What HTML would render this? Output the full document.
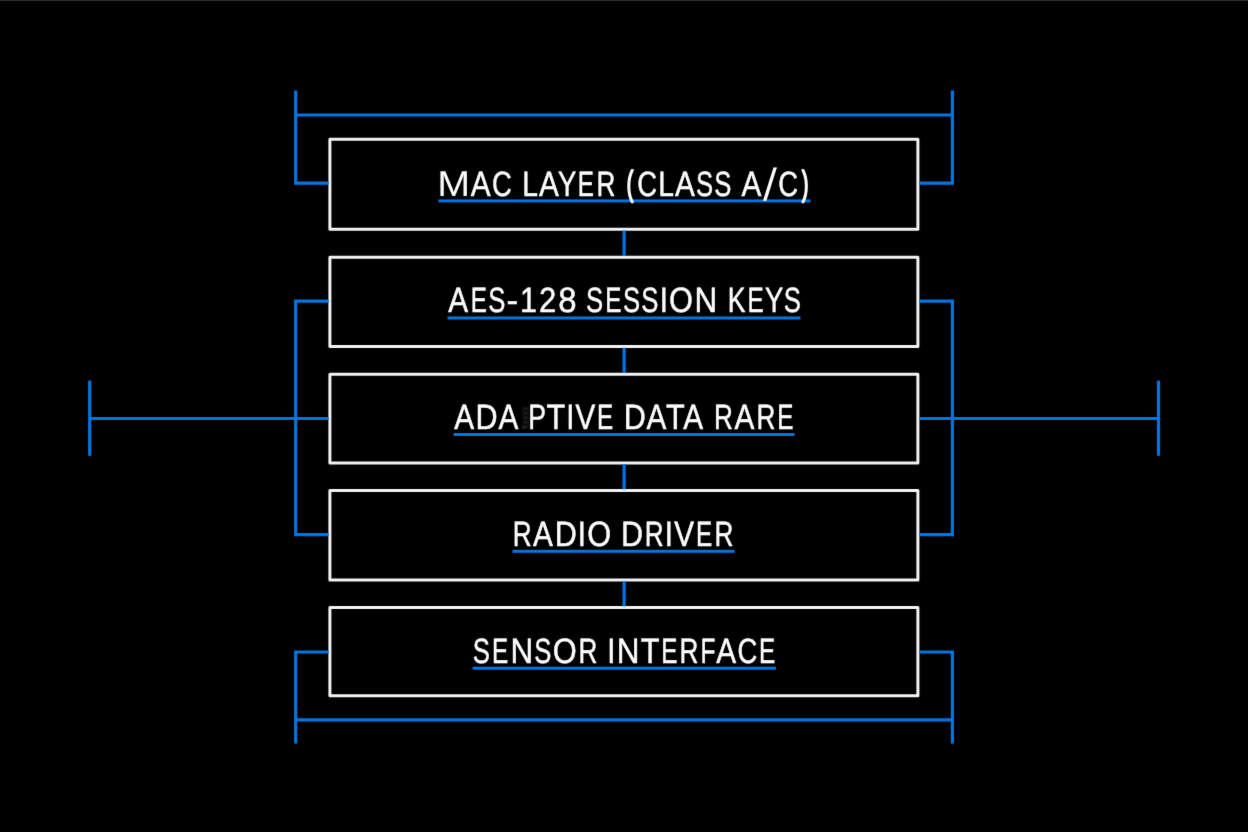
<!DOCTYPE html>
<html lang="en">
<head>
<meta charset="utf-8">
<title>LoRaWAN Stack Diagram</title>
<style>
html,body{margin:0;padding:0;background:#000;}
body{width:1248px;height:832px;overflow:hidden;}
svg{display:block;will-change:transform;}
.wire{fill:none;stroke:#0075e2;stroke-width:3.2;stroke-linecap:butt;stroke-linejoin:miter;}
.box{fill:none;stroke:#f3f3f3;stroke-width:3.0;stroke-linejoin:round;}
.ul{fill:#0075e2;}
text{font-family:"Liberation Sans",sans-serif;font-size:35.2px;fill:#fcfcfc;stroke:#fcfcfc;stroke-width:0.5;stroke-linejoin:round;text-rendering:geometricPrecision;font-kerning:none;font-variant-ligatures:none;}
</style>
</head>
<body>
<svg width="1248" height="832" viewBox="0 0 1248 832" role="img" aria-label="LoRaWAN end-device protocol stack">
<desc>Stack diagram, top to bottom: MAC layer (Class A/C), AES-128 session keys, adaptive data rate, radio driver, sensor interface.</desc>
<rect width="1248" height="832" fill="#000"/>
<rect width="1248" height="1" fill="#2a2c2b"/><rect y="1" width="1248" height="1" fill="#050505"/>
<defs><filter id="soft" filterUnits="userSpaceOnUse" x="0" y="2" width="1248" height="830" color-interpolation-filters="sRGB"><feConvolveMatrix order="3" kernelMatrix="0.0064 0.0672 0.0064 0.0672 0.7056 0.0672 0.0064 0.0672 0.0064" edgeMode="none"/></filter></defs>
<g filter="url(#soft)">
<g class="box">
<rect x="329.9" y="139.2" width="588" height="90.1"/>
<rect x="329.9" y="257.15" width="588" height="89.35"/>
<rect x="329.9" y="374.2" width="588" height="88.8"/>
<rect x="329.9" y="490.5" width="588" height="89.5"/>
<rect x="329.9" y="607.5" width="588" height="88.2"/>
</g>
<g class="wire">
<path d="M295.7 90.4V183.05H328.7"/>
<path d="M952.4 90.4V183.05H919.1"/>
<path d="M295.7 115H952.4"/>
<path d="M328.7 301.2H295.7V534.6H328.7"/>
<path d="M919.1 301.2H952.4V534.6H919.1"/>
<path d="M89.7 418.5H328.7"/>
<path d="M919.1 418.5H1158.5"/>
<path d="M89.7 380.6V455.8"/>
<path d="M1158.5 380.6V455.8"/>
<path d="M328.7 652H295.7V743.4"/>
<path d="M919.1 652H952.4V743.4"/>
<path d="M295.7 719.9H952.4"/>
<path d="M624.1 230.5V255.95"/>
<path d="M624.1 347.7V373"/>
<path d="M624.1 464.2V489.3"/>
<path d="M624.1 581.2V606.3"/>
</g>
<g class="ul">
<rect x="438.4" y="199.4" width="372.1" height="3"/>
<rect x="447.5" y="316.45" width="353" height="3"/>
<rect x="453.6" y="433" width="341" height="3"/>
<rect x="512.6" y="549.8" width="221.9" height="3"/>
<rect x="472.6" y="666.7" width="303.3" height="3"/>
</g>
<rect x="522" y="407" width="7.2" height="22.4" fill="#0c0d0e"/><line x1="525.6" y1="407.5" x2="525.6" y2="429" stroke="#1b1c1e" stroke-width="3.4" stroke-dasharray="2.2 2.4" fill="none"/><circle cx="523.6" cy="427.7" r="1.1" fill="#30363c"/>
<text y="195.6"><tspan x="437.36" y="195.85" style="font-size:35.93px;stroke-width:0" textLength="32.87" lengthAdjust="spacingAndGlyphs">M</tspan><tspan x="470.76" y="195.6" textLength="19.88" lengthAdjust="spacingAndGlyphs">A</tspan><tspan x="492.06" textLength="19.82" lengthAdjust="spacingAndGlyphs">C</tspan> <tspan x="522.36" textLength="15.7" lengthAdjust="spacingAndGlyphs">L</tspan><tspan x="538.91" textLength="19.88" lengthAdjust="spacingAndGlyphs">A</tspan><tspan x="557.99" textLength="18.32" lengthAdjust="spacingAndGlyphs">Y</tspan><tspan x="577.78" textLength="16.18" lengthAdjust="spacingAndGlyphs">E</tspan><tspan x="596.39" textLength="18.89" lengthAdjust="spacingAndGlyphs">R</tspan> <tspan x="626.82" y="194.51" style="font-size:34.24px;stroke-width:2.2" textLength="6.47" lengthAdjust="spacingAndGlyphs">(</tspan><tspan x="637.21" y="195.6" textLength="19.82" lengthAdjust="spacingAndGlyphs">C</tspan><tspan x="658.31" textLength="15.7" lengthAdjust="spacingAndGlyphs">L</tspan><tspan x="674.91" textLength="19.88" lengthAdjust="spacingAndGlyphs">A</tspan><tspan x="695.98" textLength="17.14" lengthAdjust="spacingAndGlyphs">S</tspan><tspan x="714.13" textLength="17.14" lengthAdjust="spacingAndGlyphs">S</tspan> <tspan x="741.41" textLength="19.88" lengthAdjust="spacingAndGlyphs">A</tspan><tspan x="763" y="197.23" style="font-family:'DejaVu Sans','Liberation Sans',sans-serif;font-size:40.51px;stroke-width:0" textLength="13.9" lengthAdjust="spacingAndGlyphs">/</tspan><tspan x="778.26" y="195.6" textLength="19.82" lengthAdjust="spacingAndGlyphs">C</tspan><tspan x="801.9" y="194.51" style="font-size:34.24px;stroke-width:2.2" textLength="6.37" lengthAdjust="spacingAndGlyphs">)</tspan></text>
<text y="312.45"><tspan x="448.31" textLength="19.88" lengthAdjust="spacingAndGlyphs">A</tspan><tspan x="470.83" textLength="16.18" lengthAdjust="spacingAndGlyphs">E</tspan><tspan x="488.33" textLength="17.14" lengthAdjust="spacingAndGlyphs">S</tspan><tspan x="506.6" textLength="11.6" lengthAdjust="spacingAndGlyphs">-</tspan><tspan x="519.89" textLength="16.98" lengthAdjust="spacingAndGlyphs">1</tspan><tspan x="538.96" textLength="17.28" lengthAdjust="spacingAndGlyphs">2</tspan><tspan x="558.3" textLength="18.29" lengthAdjust="spacingAndGlyphs">8</tspan> <tspan x="585.93" textLength="17.14" lengthAdjust="spacingAndGlyphs">S</tspan><tspan x="605.33" textLength="16.18" lengthAdjust="spacingAndGlyphs">E</tspan><tspan x="622.98" textLength="17.14" lengthAdjust="spacingAndGlyphs">S</tspan><tspan x="641.18" textLength="17.14" lengthAdjust="spacingAndGlyphs">S</tspan><tspan x="659.63" textLength="8.14" lengthAdjust="spacingAndGlyphs">I</tspan><tspan x="669.04" textLength="23.93" lengthAdjust="spacingAndGlyphs">O</tspan><tspan x="694.5" textLength="22.69" lengthAdjust="spacingAndGlyphs">N</tspan> <tspan x="727.81" textLength="17.7" lengthAdjust="spacingAndGlyphs">K</tspan><tspan x="747.48" textLength="16.18" lengthAdjust="spacingAndGlyphs">E</tspan><tspan x="764.99" textLength="18.32" lengthAdjust="spacingAndGlyphs">Y</tspan><tspan x="783.73" textLength="17.14" lengthAdjust="spacingAndGlyphs">S</tspan></text>
<text y="429.3"><tspan x="454.16" textLength="19.88" lengthAdjust="spacingAndGlyphs">A</tspan><tspan x="475.45" textLength="22.06" lengthAdjust="spacingAndGlyphs">D</tspan><tspan x="498.41" textLength="19.88" lengthAdjust="spacingAndGlyphs">A</tspan> <tspan x="528.25" textLength="17.76" lengthAdjust="spacingAndGlyphs">P</tspan><tspan x="546.44" textLength="18.74" lengthAdjust="spacingAndGlyphs">T</tspan><tspan x="566.18" textLength="8.14" lengthAdjust="spacingAndGlyphs">I</tspan><tspan x="575.46" textLength="19.79" lengthAdjust="spacingAndGlyphs">V</tspan><tspan x="596.93" textLength="16.18" lengthAdjust="spacingAndGlyphs">E</tspan> <tspan x="623.75" textLength="22.06" lengthAdjust="spacingAndGlyphs">D</tspan><tspan x="646.51" textLength="19.88" lengthAdjust="spacingAndGlyphs">A</tspan><tspan x="666.04" textLength="18.74" lengthAdjust="spacingAndGlyphs">T</tspan><tspan x="683.23" textLength="19.88" lengthAdjust="spacingAndGlyphs">A</tspan> <tspan x="714.09" textLength="18.89" lengthAdjust="spacingAndGlyphs">R</tspan><tspan x="734.43" textLength="19.88" lengthAdjust="spacingAndGlyphs">A</tspan><tspan x="756.54" textLength="18.89" lengthAdjust="spacingAndGlyphs">R</tspan><tspan x="777.13" textLength="16.18" lengthAdjust="spacingAndGlyphs">E</tspan></text>
<text y="546.15"><tspan x="512.76" textLength="18.89" lengthAdjust="spacingAndGlyphs">R</tspan><tspan x="532.91" textLength="19.88" lengthAdjust="spacingAndGlyphs">A</tspan><tspan x="554.85" textLength="22.06" lengthAdjust="spacingAndGlyphs">D</tspan><tspan x="577.83" textLength="8.14" lengthAdjust="spacingAndGlyphs">I</tspan><tspan x="587.19" textLength="23.93" lengthAdjust="spacingAndGlyphs">O</tspan> <tspan x="621.1" textLength="22.06" lengthAdjust="spacingAndGlyphs">D</tspan><tspan x="644.84" textLength="18.89" lengthAdjust="spacingAndGlyphs">R</tspan><tspan x="664.83" textLength="8.14" lengthAdjust="spacingAndGlyphs">I</tspan><tspan x="674.21" textLength="19.79" lengthAdjust="spacingAndGlyphs">V</tspan><tspan x="695.88" textLength="16.18" lengthAdjust="spacingAndGlyphs">E</tspan><tspan x="714.59" textLength="18.89" lengthAdjust="spacingAndGlyphs">R</tspan></text>
<text y="663"><tspan x="472.63" textLength="17.14" lengthAdjust="spacingAndGlyphs">S</tspan><tspan x="492.03" textLength="16.18" lengthAdjust="spacingAndGlyphs">E</tspan><tspan x="510.42" textLength="22.69" lengthAdjust="spacingAndGlyphs">N</tspan><tspan x="534.31" textLength="17.14" lengthAdjust="spacingAndGlyphs">S</tspan><tspan x="552.64" textLength="23.93" lengthAdjust="spacingAndGlyphs">O</tspan><tspan x="578.59" textLength="18.89" lengthAdjust="spacingAndGlyphs">R</tspan> <tspan x="607.3" textLength="8.14" lengthAdjust="spacingAndGlyphs">I</tspan><tspan x="616.82" textLength="22.69" lengthAdjust="spacingAndGlyphs">N</tspan><tspan x="640.81" textLength="18.74" lengthAdjust="spacingAndGlyphs">T</tspan><tspan x="661.21" textLength="16.18" lengthAdjust="spacingAndGlyphs">E</tspan><tspan x="679.54" textLength="18.89" lengthAdjust="spacingAndGlyphs">R</tspan><tspan x="700.57" textLength="14.94" lengthAdjust="spacingAndGlyphs">F</tspan><tspan x="716.26" textLength="19.88" lengthAdjust="spacingAndGlyphs">A</tspan><tspan x="737.56" textLength="19.82" lengthAdjust="spacingAndGlyphs">C</tspan><tspan x="759.03" textLength="16.18" lengthAdjust="spacingAndGlyphs">E</tspan></text>
</g>
</svg>
</body>
</html>
